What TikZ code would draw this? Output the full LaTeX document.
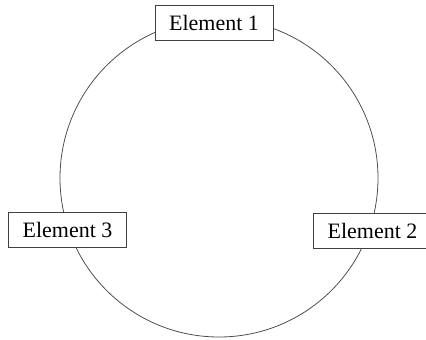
\documentclass[tikz,border=0pt]{standalone}
\usepackage{fontspec}
\setmainfont{Liberation Serif}
\usepackage{tikz}
\usepackage{xcolor}

\begin{document}
\begin{tikzpicture}[x=1cm,y=1cm,every node/.style={font=\fontsize{12.5}{15}\selectfont},
  elem/.style={draw=black!75,fill=white,line width=0.4pt,inner xsep=8pt,minimum height=0.7cm}]
\useasboundingbox (0,0) rectangle (8.52,-6.78);
\coordinate (c) at (4.38,-3.56);
\draw[black!70,line width=0.45pt] (c) circle (3.18);
\node[elem] (e1) at (4.28,-0.46) {Element 1};
\node[elem] (e2) at (7.45,-4.61) {Element 2};
\node[elem] (e3) at (1.35,-4.60) {Element 3};
\end{tikzpicture}
\end{document}
